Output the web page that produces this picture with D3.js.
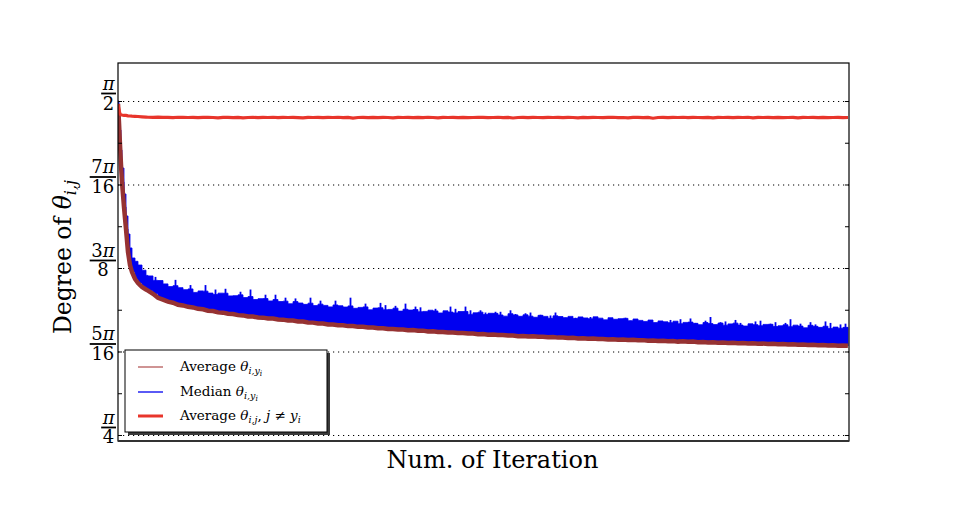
<!DOCTYPE html>
<html><head><meta charset="utf-8">
<script src="https://cdn.jsdelivr.net/npm/d3@7"></script>
<style>
html,body{margin:0;padding:0;background:#fff;}
svg{display:block;}
text{font-family:"DejaVu Serif",serif;fill:#000;}
</style></head><body>
<svg id="chart" width="976" height="526"></svg>
<script>
// ---- data (angles in degrees; pi/2 = 90) ----
const iterations = [0,100,200,300,400,600,800,1000,1200,1400,1700,2000,2400,2800].concat(d3.range(3000, 73001, 500));

// Average theta_{i,y_i}
const avgTheta = [
 89.60, 87.04, 84.07, 81.38, 79.09, 75.72, 72.75, 69.66, 67.90, 66.96, 66.02, 65.48, 64.94, 64.60,
 64.45, 64.02, 63.48, 63.23, 62.96, 62.82, 62.55, 62.46, 62.27, 62.19,
 62.00, 61.94, 61.75, 61.70, 61.52, 61.48, 61.33, 61.30, 61.15, 61.11,
 60.97, 60.95, 60.82, 60.81, 60.69, 60.68, 60.56, 60.54, 60.42, 60.41,
 60.29, 60.28, 60.16, 60.14, 60.03, 60.02, 59.90, 59.89, 59.78, 59.77,
 59.67, 59.68, 59.57, 59.57, 59.47, 59.48, 59.38, 59.39, 59.29, 59.29,
 59.20, 59.21, 59.12, 59.13, 59.04, 59.06, 58.96, 58.97, 58.88, 58.89,
 58.80, 58.81, 58.73, 58.74, 58.66, 58.67, 58.59, 58.61, 58.52, 58.54,
 58.46, 58.47, 58.39, 58.41, 58.32, 58.35, 58.27, 58.30, 58.23, 58.25,
 58.18, 58.20, 58.12, 58.14, 58.07, 58.09, 58.01, 58.04, 57.96, 57.99,
 57.92, 57.94, 57.87, 57.90, 57.83, 57.86, 57.79, 57.82, 57.75, 57.78,
 57.71, 57.73, 57.66, 57.69, 57.62, 57.65, 57.58, 57.62, 57.55, 57.58,
 57.51, 57.54, 57.47, 57.50, 57.43, 57.47, 57.40, 57.43, 57.36, 57.39,
 57.32, 57.36, 57.29, 57.32, 57.25, 57.29, 57.22, 57.26, 57.19, 57.23,
 57.16, 57.20, 57.13, 57.16, 57.10, 57.13, 57.06, 57.10, 57.03, 57.07,
 57.01
];

// Median theta_{i,y_i} (upper edge of the noisy trace)
const medianTheta = [
 90.00, 88.52, 86.09, 83.40, 80.97, 77.47, 74.51, 72.08, 70.20, 68.85, 68.40, 67.90, 67.20, 66.50,
 66.43, 65.83, 65.81, 65.36, 64.99, 65.12, 64.85, 64.58, 64.68, 64.21,
 64.41, 64.38, 64.12, 63.93, 64.11, 64.10, 63.74, 63.77, 63.88, 63.51,
 63.65, 63.25, 63.37, 63.38, 63.06, 63.25, 62.98, 63.03, 62.68, 62.97,
 62.78, 62.60, 62.76, 62.43, 62.63, 62.46, 62.26, 62.52, 62.41, 62.24,
 62.39, 62.07, 62.19, 62.26, 61.86, 62.10, 62.14, 61.87, 61.92, 62.09,
 61.69, 61.94, 61.83, 61.90, 61.60, 61.65, 61.81, 61.71, 61.44, 61.73,
 61.56, 61.45, 61.63, 61.64, 61.25, 61.46, 61.55, 61.23, 61.40, 61.39,
 61.17, 61.01, 61.34, 61.18, 60.99, 61.19, 61.01, 60.86, 61.12, 60.98,
 60.72, 61.05, 60.96, 60.81, 60.98, 60.69, 60.91, 60.77, 60.66, 60.92,
 60.74, 60.51, 60.80, 60.59, 60.67, 60.71, 60.39, 60.63, 60.44, 60.30,
 60.49, 60.14, 60.37, 60.25, 60.13, 60.33, 59.99, 60.17, 60.21, 60.04,
 59.86, 60.15, 60.01, 59.87, 60.08, 59.79, 59.97, 60.07, 59.81, 59.68,
 59.98, 59.86, 59.72, 59.90, 59.91, 59.62, 59.71, 59.85, 59.59, 59.80,
 59.67, 59.44, 59.78, 59.64, 59.50, 59.65, 59.34, 59.54, 59.38, 59.50,
 59.39
];

// narrow upward excursions of the median trace: sample index and peak value
const medianSpikeIndex = [15,19,22,25,27,29,32,34,37,39,41,43,46,48,51,54,57,60,61,63,65,67,68,71,74,75,77,78,80,81,83,84,86,87,89,90,92,94,95,97,98,99,101,102,104,106,107,109,110,111,112,114,115,117,118,119,120,122,123,125,126,128,129,131,132,135,136,138,139,141,142,144,146,147,149,150,152,153];
const medianSpikeValue = [66.3,65.9,65.2,65.2,64.6,64.7,64.3,64.6,63.9,63.9,63.5,63.4,63.5,63.1,63.1,63.5,62.7,62.8,62.5,62.4,62.7,62.3,62.2,62.0,62.3,62.0,62.3,61.8,61.8,61.5,61.6,61.6,61.8,61.3,61.4,61.5,61.2,61.1,61.5,60.8,60.9,60.8,60.6,60.9,60.6,60.5,60.3,60.8,60.4,60.4,60.3,60.3,60.0,60.0,60.5,60.2,60.6,60.7,60.1,60.4,60.9,60.2,60.3,60.5,60.1,60.3,60.4,60.0,60.2,60.1,60.6,60.0,60.2,59.9,60.3,60.1,59.9,60.0];

// Average theta_{i,j}, j != y_i
const avgOtherTheta = [
 89.60, 88.79, 88.25, 88.15, 88.11, 88.05, 88.05, 88.00, 87.98, 87.96, 87.94, 87.91, 87.87, 87.84,
 87.81, 87.80, 87.82, 87.79, 87.80, 87.77, 87.81, 87.79, 87.78, 87.80,
 87.76, 87.79, 87.81, 87.78, 87.74, 87.79, 87.80, 87.77, 87.79, 87.72,
 87.78, 87.80, 87.76, 87.79, 87.78, 87.81, 87.75, 87.79, 87.78, 87.80,
 87.77, 87.73, 87.79, 87.78, 87.80, 87.76, 87.79, 87.78, 87.81, 87.77,
 87.79, 87.70, 87.78, 87.80, 87.77, 87.79, 87.76, 87.80, 87.78, 87.74,
 87.79, 87.78, 87.80, 87.77, 87.79, 87.76, 87.81, 87.78, 87.73, 87.79,
 87.78, 87.80, 87.77, 87.79, 87.75, 87.78, 87.80, 87.79, 87.76, 87.78,
 87.81, 87.77, 87.79, 87.71, 87.78, 87.80, 87.77, 87.79, 87.78, 87.75,
 87.80, 87.78, 87.79, 87.76, 87.80, 87.78, 87.73, 87.79, 87.77, 87.80,
 87.78, 87.76, 87.79, 87.81, 87.77, 87.78, 87.74, 87.79, 87.80, 87.77,
 87.79, 87.68, 87.78, 87.80, 87.76, 87.79, 87.78, 87.81, 87.75, 87.79,
 87.78, 87.77, 87.80, 87.73, 87.79, 87.78, 87.80, 87.76, 87.79, 87.78,
 87.81, 87.74, 87.79, 87.78, 87.80, 87.77, 87.79, 87.76, 87.78, 87.80,
 87.72, 87.79, 87.78, 87.80, 87.77, 87.79, 87.76, 87.78, 87.80, 87.77,
 87.78
];

const majorTicks = [45, 56.25, 67.5, 78.75, 90];
const tickCoefficients = ["", "5", "3", "7", ""];
const tickDenominators = ["4", "16", "8", "16", "2"];
const minorTicks = [50.625, 61.875, 73.125, 84.375];
const legendLabels = ["Average", "Median", "Average"];

// ---- layout ----
const svg = d3.select("#chart");
const L = 118, R = 849, T = 63, B = 441;
const x = d3.scaleLinear().domain([0, 73100]).range([L, R]);
const y = d3.scaleLinear().domain([44.19, 95.12]).range([B, T]);

const n = Math.min(iterations.length, avgTheta.length, medianTheta.length, avgOtherTheta.length);
const rows = d3.range(n).map(i => ({it: iterations[i], avg: avgTheta[i], med: medianTheta[i], oth: avgOtherTheta[i]}));
const spikes = medianSpikeIndex.map((k, j) => ({k, v: medianSpikeValue[j]})).filter(s => s.k + 1 < n);

// grid
svg.append("g").attr("transform", `translate(${L},0)`)
  .call(d3.axisLeft(y).tickValues(majorTicks).tickSize(-(R - L)).tickFormat(""))
  .call(g => g.select(".domain").remove())
  .call(g => g.selectAll(".tick line").attr("stroke", "#000").attr("stroke-width", 1.1).attr("stroke-dasharray", "1.2,3.8"));

// series
svg.append("clipPath").attr("id", "clip").append("rect").attr("x", L).attr("y", T).attr("width", R - L).attr("height", B - T);
const plot = svg.append("g").attr("clip-path", "url(#clip)");

plot.append("path").datum(rows)
  .attr("fill", "#0000f0").attr("stroke", "#0000f0").attr("stroke-width", 0.8)
  .attr("d", d3.area().x(d => x(d.it)).y0(d => y(d.avg)).y1(d => y(d.med)).curve(d3.curveStepAfter));

plot.selectAll("line.spike").data(spikes).join("line").attr("class", "spike")
  .attr("x1", d => x((iterations[d.k] + iterations[d.k + 1]) / 2))
  .attr("x2", d => x((iterations[d.k] + iterations[d.k + 1]) / 2))
  .attr("y1", d => y(d.v)).attr("y2", d => y(avgTheta[d.k]))
  .attr("stroke", "#0000f0").attr("stroke-width", 1.8);

plot.append("path").datum(rows)
  .attr("fill", "none").attr("stroke", "#963232").attr("stroke-width", 4.5)
  .attr("d", d3.line().x(d => x(d.it)).y(d => y(d.avg)));

plot.append("path").datum(rows)
  .attr("fill", "none").attr("stroke", "#e8352b").attr("stroke-width", 3.2)
  .attr("d", d3.line().x(d => x(d.it)).y(d => y(d.oth)));

// ticks (inward) left and right
const allTicks = majorTicks.concat(minorTicks);
svg.append("g").attr("transform", `translate(${L},0)`)
  .call(d3.axisLeft(y).tickValues(allTicks).tickSize(-4).tickFormat(""))
  .call(g => g.select(".domain").remove())
  .call(g => g.selectAll(".tick line").attr("stroke", "#000"));
svg.append("g").attr("transform", `translate(${R},0)`)
  .call(d3.axisRight(y).tickValues(allTicks).tickSize(-4).tickFormat(""))
  .call(g => g.select(".domain").remove())
  .call(g => g.selectAll(".tick line").attr("stroke", "#000"));

// frame
svg.append("rect").attr("x", L).attr("y", T).attr("width", R - L).attr("height", B - T)
  .attr("fill", "none").attr("stroke", "#000").attr("stroke-width", 1.2);
svg.append("line").attr("x1", L).attr("x2", R).attr("y1", B).attr("y2", B).attr("stroke", "#333").attr("stroke-width", 2);

// fraction tick labels (one text element per label)
majorTicks.forEach((v, i) => {
  const barY = y(v) - 7.5;
  const g = svg.append("g");
  const t = g.append("text").attr("font-size", 18).attr("text-anchor", "middle");
  const num = t.append("tspan").attr("y", barY - 3.5);
  num.append("tspan").text(tickCoefficients[i]);
  num.append("tspan").attr("font-style", "italic").text("π");
  const den = t.append("tspan").attr("y", barY + 16).text(tickDenominators[i]);
  const w = Math.max(num.node().getComputedTextLength(), den.node().getComputedTextLength()) + 3;
  const cx = 116 - w / 2;
  num.attr("x", cx); den.attr("x", cx);
  g.append("line").attr("x1", 116 - w).attr("x2", 116).attr("y1", barY).attr("y2", barY).attr("stroke", "#000").attr("stroke-width", 1.8);
});

// axis titles
svg.append("text").attr("x", 492.5).attr("y", 468).attr("font-size", 24).attr("text-anchor", "middle").text("Num. of Iteration");

const yt = svg.append("text").attr("transform", "translate(71,257) rotate(-90)").attr("text-anchor", "middle").attr("font-size", 23.5);
yt.append("tspan").text("Degree of ");
yt.append("tspan").attr("font-style", "italic").text("θ");
yt.append("tspan").attr("font-style", "italic").attr("font-size", 16).attr("dy", 5).text("i,j");

// legend
const lg = svg.append("g");
lg.append("rect").attr("x", 128).attr("y", 353).attr("width", 202).attr("height", 82).attr("fill", "#3a3a3a");
lg.append("rect").attr("x", 125).attr("y", 350).attr("width", 202).attr("height", 82).attr("fill", "#fff").attr("stroke", "#000").attr("stroke-width", 1);
const legendRows = [
  {yy: 367, color: "#b55a5a", w: 1.3},
  {yy: 392, color: "#0000f0", w: 1.3},
  {yy: 416, color: "#e8352b", w: 3}
];
legendRows.forEach((r, i) => {
  lg.append("line").attr("x1", 138).attr("x2", 163).attr("y1", r.yy).attr("y2", r.yy).attr("stroke", r.color).attr("stroke-width", r.w);
  const t = lg.append("text").attr("x", 180).attr("y", r.yy + 4).attr("font-size", 13.5);
  t.append("tspan").text(legendLabels[i] + " ");
  t.append("tspan").attr("font-style", "italic").text("θ");
  if (i < 2) {
    t.append("tspan").attr("font-style", "italic").attr("font-size", 9.5).attr("dy", 3).text("i,y");
    t.append("tspan").attr("font-style", "italic").attr("font-size", 7.5).attr("dy", 2).text("i");
  } else {
    t.append("tspan").attr("font-style", "italic").attr("font-size", 9.5).attr("dy", 3).text("i,j");
    t.append("tspan").attr("dy", -3).text(", ");
    t.append("tspan").attr("font-style", "italic").text("j");
    t.append("tspan").text(" ≠ ");
    t.append("tspan").attr("font-style", "italic").text("y");
    t.append("tspan").attr("font-style", "italic").attr("font-size", 9.5).attr("dy", 3).text("i");
  }
});
</script>
</body></html>
